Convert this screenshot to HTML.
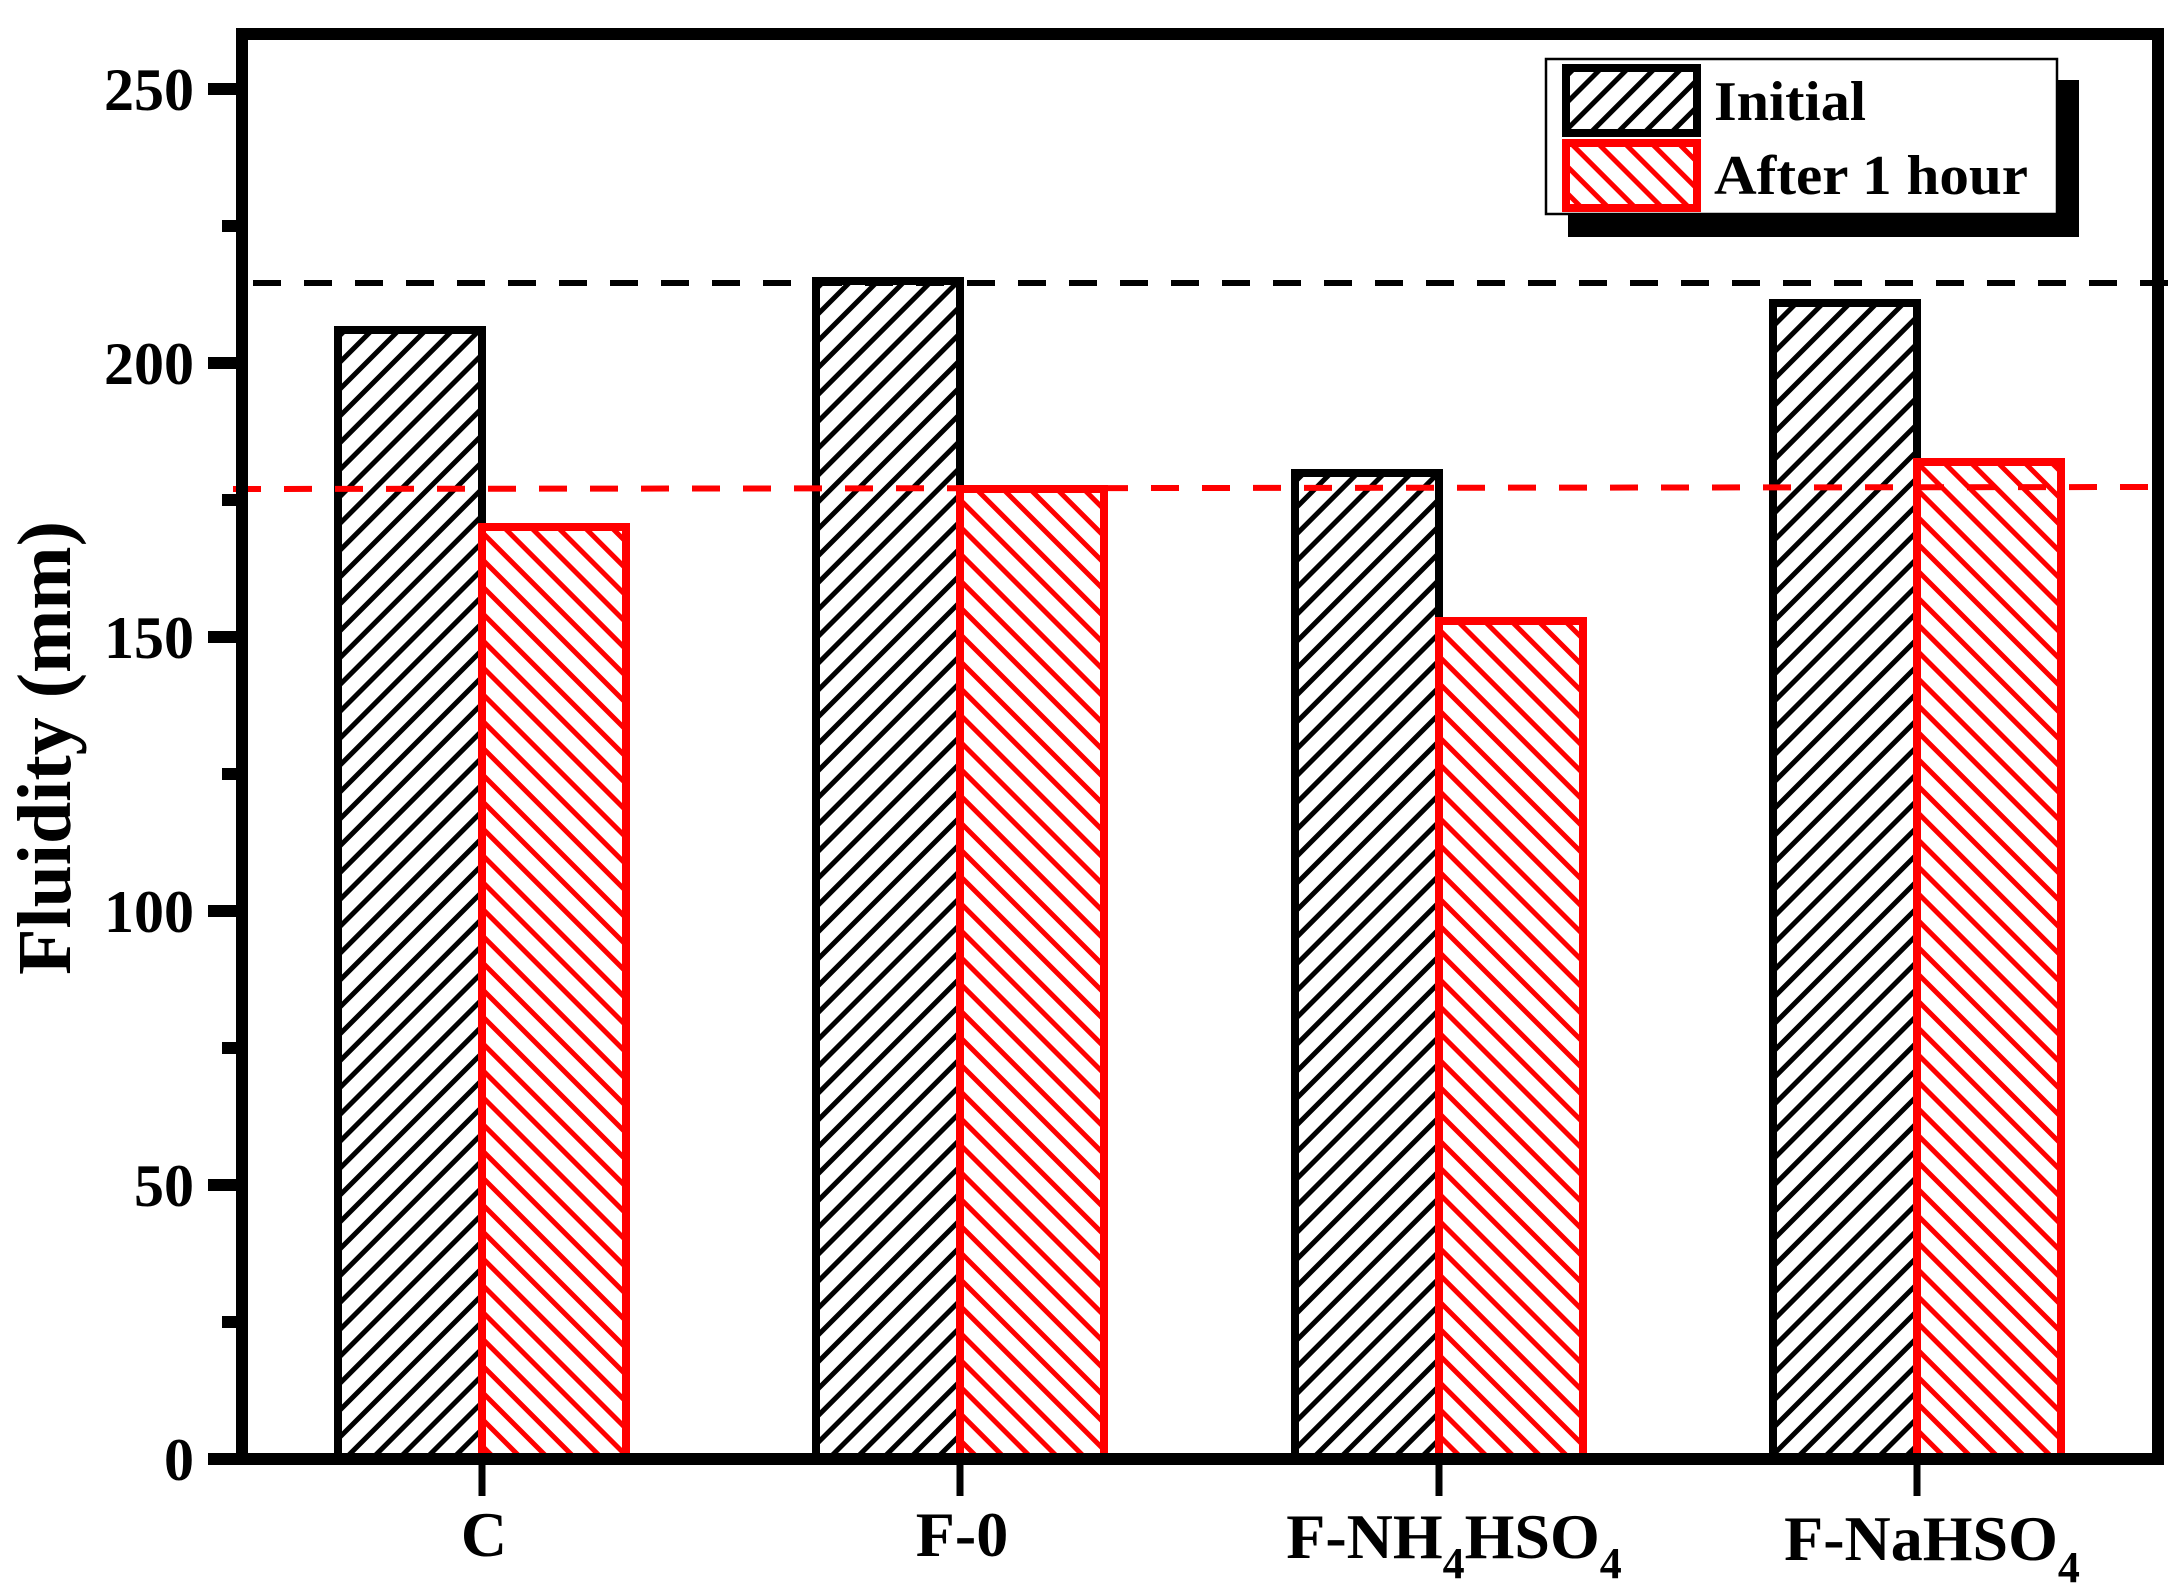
<!DOCTYPE html>
<html><head><meta charset="utf-8"><style>
html,body{margin:0;padding:0;background:#fff;}
svg{display:block;}
text{font-family:"Liberation Serif",serif;font-weight:bold;}
</style></head><body>
<svg width="2184" height="1593" viewBox="0 0 2184 1593" xmlns="http://www.w3.org/2000/svg">
<defs>
<pattern id="hb" patternUnits="userSpaceOnUse" width="19" height="19" patternTransform="rotate(45)">
<rect x="0" y="0" width="5" height="19" fill="#000"/>
</pattern>
<pattern id="hr" patternUnits="userSpaceOnUse" width="19" height="19" patternTransform="rotate(-45)">
<rect x="0" y="0" width="5" height="19" fill="#f00"/>
</pattern>
</defs>
<rect width="2184" height="1593" fill="#fff"/>

<g stroke-width="8">
<rect x="338" y="330" width="144" height="1129" fill="url(#hb)" stroke="#000"/>
<rect x="482" y="527" width="144" height="932" fill="url(#hr)" stroke="#f00"/>
<rect x="816" y="281" width="144" height="1178" fill="url(#hb)" stroke="#000"/>
<rect x="960" y="489" width="144" height="970" fill="url(#hr)" stroke="#f00"/>
<rect x="1295" y="473" width="144" height="986" fill="url(#hb)" stroke="#000"/>
<rect x="1439" y="621" width="144" height="838" fill="url(#hr)" stroke="#f00"/>
<rect x="1773" y="303" width="144" height="1156" fill="url(#hb)" stroke="#000"/>
<rect x="1917" y="462" width="144" height="997" fill="url(#hr)" stroke="#f00"/>
</g>

<line x1="253" y1="283" x2="2168" y2="283" stroke="#000" stroke-width="6" stroke-dasharray="28 23"/>
<line x1="233" y1="489" x2="2152" y2="487" stroke="#f00" stroke-width="6" stroke-dasharray="28 23"/>

<rect x="1568" y="80" width="511" height="157" fill="#000"/>
<rect x="1546" y="59" width="511" height="155" fill="#fff" stroke="#000" stroke-width="2.5"/>
<rect x="1566" y="68" width="131" height="65" fill="url(#hb)" stroke="#000" stroke-width="8"/>
<rect x="1566" y="143" width="131" height="65" fill="url(#hr)" stroke="#f00" stroke-width="8"/>
<text x="1714" y="120" font-size="56" textLength="152" lengthAdjust="spacingAndGlyphs">Initial</text>
<text x="1714" y="194" font-size="56" textLength="314" lengthAdjust="spacingAndGlyphs">After 1 hour</text>

<rect x="242" y="34" width="1916" height="1425" fill="none" stroke="#000" stroke-width="12"/>

<g stroke="#000" stroke-width="12">
<line x1="208" y1="1459" x2="242" y2="1459"/>
<line x1="222" y1="1322" x2="242" y2="1322"/>
<line x1="208" y1="1185" x2="242" y2="1185"/>
<line x1="222" y1="1048" x2="242" y2="1048"/>
<line x1="208" y1="911" x2="242" y2="911"/>
<line x1="222" y1="774" x2="242" y2="774"/>
<line x1="208" y1="637" x2="242" y2="637"/>
<line x1="222" y1="500" x2="242" y2="500"/>
<line x1="208" y1="363" x2="242" y2="363"/>
<line x1="222" y1="226" x2="242" y2="226"/>
<line x1="208" y1="89" x2="242" y2="89"/>
</g>
<g font-size="60" text-anchor="end">
<text x="194" y="1480">0</text>
<text x="194" y="1206">50</text>
<text x="194" y="932">100</text>
<text x="194" y="658">150</text>
<text x="194" y="384">200</text>
<text x="194" y="110">250</text>
</g>

<g stroke="#000" stroke-width="7">
<line x1="482" y1="1465" x2="482" y2="1496"/>
<line x1="960" y1="1465" x2="960" y2="1496"/>
<line x1="1439" y1="1465" x2="1439" y2="1496"/>
<line x1="1917" y1="1465" x2="1917" y2="1496"/>
</g>
<g font-size="64" text-anchor="middle">
<text x="484" y="1556">C</text>
<text x="962" y="1556">F-0</text>
<text x="1454" y="1558">F-NH<tspan font-size="44" dy="20">4</tspan><tspan dy="-20">HSO</tspan><tspan font-size="44" dy="20">4</tspan></text>
<text x="1932" y="1560">F-NaHSO<tspan font-size="44" dy="22">4</tspan></text>
</g>

<text transform="translate(70,748) rotate(-90)" font-size="76" text-anchor="middle">Fluidity (mm)</text>
</svg>
</body></html>
